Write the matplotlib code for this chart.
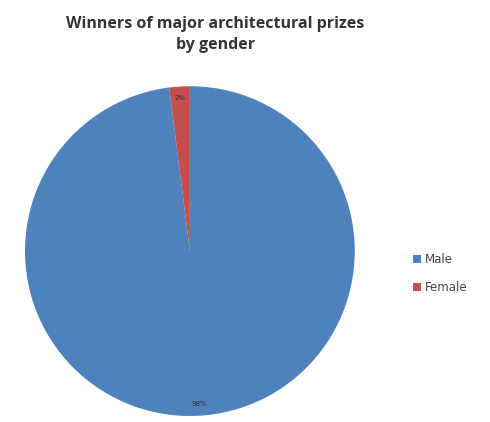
import matplotlib
matplotlib.use("Agg")
import matplotlib.pyplot as plt

# Data
labels = ['Male', 'Female']
shares = [98, 2]
colors = ['#4F81BD', '#C0504D']

fig = plt.figure(figsize=(4.9, 4.22), dpi=100)
ax = fig.add_axes([0.051, 0.014, 0.673, 0.782])

wedges, texts, autotexts = ax.pie(
    shares, colors=colors, startangle=90, counterclock=False,
    autopct='%1.0f%%', pctdistance=0.93,
    textprops={'fontsize': 5, 'color': '#333333'})
ax.set_xlim(-1, 1)
ax.set_ylim(-1, 1)
ax.set_aspect('equal')

fig.text(0.44, 0.918, 'Winners of major architectural prizes\nby gender',
         ha='center', va='center', fontsize=11.5, fontweight='bold',
         family='Open Sans', color='#333333', linespacing=1.45)

fig.legend(wedges, labels, loc='upper left', bbox_to_anchor=(0.83, 0.415),
           frameon=False, fontsize=8.5, handlelength=0.7, handleheight=0.7,
           handletextpad=0.3, labelspacing=1.3, borderpad=0,
           labelcolor='#444444')

fig.savefig('out.png', dpi=100)
